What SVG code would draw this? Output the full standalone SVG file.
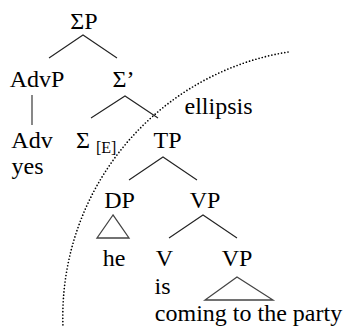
<svg xmlns="http://www.w3.org/2000/svg" width="344" height="335" viewBox="0 0 344 335">
<style>
text{font-family:'Liberation Serif','Times New Roman',serif;font-size:24px;fill:#000;text-anchor:middle}
.l{text-anchor:start}
.sub{font-size:16px}
.edge{fill:none;stroke:#222;stroke-width:1.1}
.tri{fill:none;stroke:#444;stroke-width:1.3}
.ell{fill:none;stroke:#000;stroke-width:1.7;stroke-linecap:round;stroke-dasharray:0 3.3}
</style>
<rect width="344" height="335" fill="#fff"/>
<g id="connectors">
<path class="edge" d="M49,58 L83,35 L117,58"/>
<path class="edge" d="M32,95 V125" style="stroke:#555;stroke-width:1.4"/>
<path class="edge" d="M91,118 L125,96 L158,118"/>
<path class="edge" d="M129,180 L163,157 L197,180"/>
<path class="edge" d="M169,238 L203,215 L237,238"/>
</g>
<g id="SigmaP"><text x="84" y="29">ΣP</text></g>
<g id="AdvP"><text x="37" y="87">AdvP</text></g>
<g id="SigmaBar"><text x="123.5" y="87">Σ’</text></g>
<g id="Adv"><text x="32" y="148">Adv</text><text x="27.5" y="174">yes</text></g>
<g id="SigmaE"><text x="83" y="148">Σ</text><text class="l sub" x="96" y="153">[E]</text></g>
<g id="TP"><text x="167.5" y="148">TP</text></g>
<g id="DP"><text x="119.5" y="208">DP</text><path class="tri" d="M113,215 L97,238 H129 Z"/><text x="114" y="266">he</text></g>
<g id="VP"><text x="205" y="208">VP</text></g>
<g id="V"><text x="164.5" y="266">V</text><text x="162.5" y="294">is</text></g>
<g id="VP2"><text x="237" y="266">VP</text><path class="tri" d="M237,277 L205,300 H273 Z"/><text x="248.5" y="321">coming to the party</text></g>
<g id="ellipsis"><path class="ell" d="M288,52 A268,268 0 0 0 63,327"/><text x="218.5" y="114">ellipsis</text></g>
</svg>
